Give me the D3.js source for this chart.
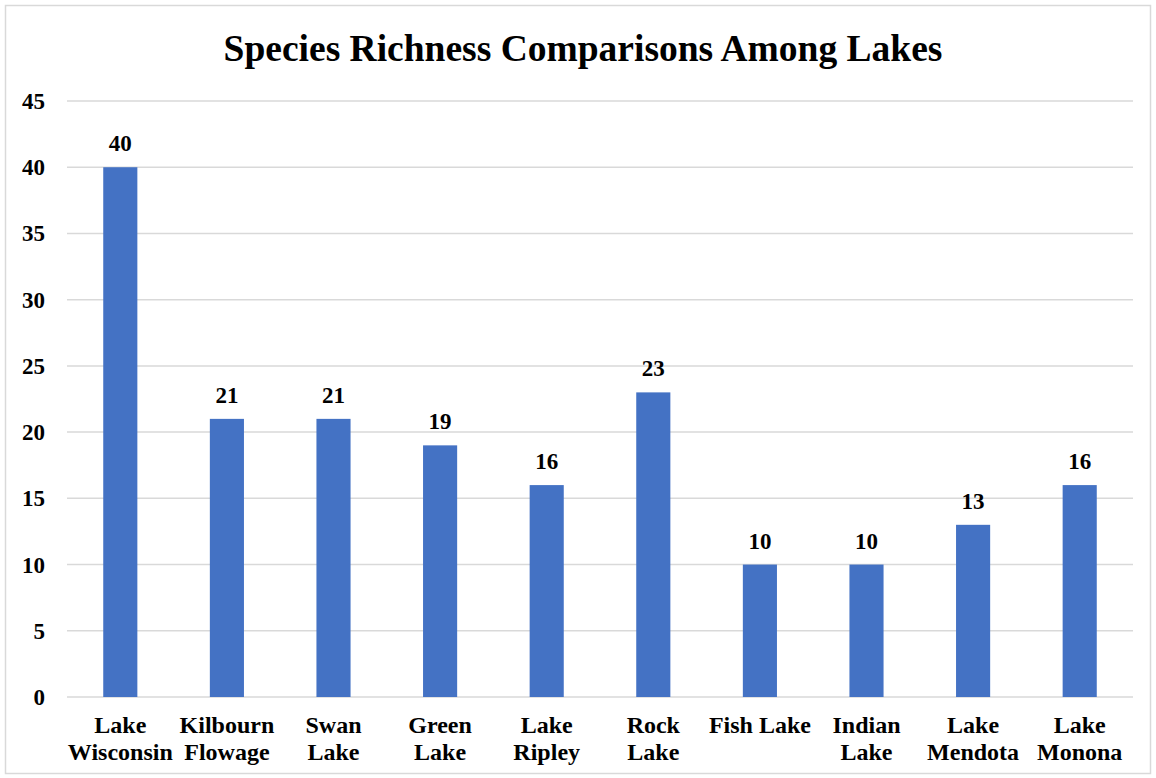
<!DOCTYPE html>
<html lang="en">
<head>
    <meta charset="UTF-8">
    <script src="https://d3js.org/d3.v7.min.js"></script>
    <style>
        body { margin: 0; background: #fff; }
        text { font-family: "Liberation Serif", "Times New Roman", serif; font-weight: bold; fill: #000; }
    </style>
</head>
<body>
<div id="chart"></div>
<script>
    var lakes = ["Lake Wisconsin", "Kilbourn Flowage", "Swan Lake", "Green Lake", "Lake Ripley",
                 "Rock Lake", "Fish Lake", "Indian Lake", "Lake Mendota", "Lake Monona"];
    // how each category label wraps on the axis
    var lakeLines = [["Lake", "Wisconsin"], ["Kilbourn", "Flowage"], ["Swan", "Lake"], ["Green", "Lake"],
                     ["Lake", "Ripley"], ["Rock", "Lake"], ["Fish Lake"], ["Indian", "Lake"],
                     ["Lake", "Mendota"], ["Lake", "Monona"]];
    var richness = [40, 21, 21, 19, 16, 23, 10, 10, 13, 16];
    var yTicks = [0, 5, 10, 15, 20, 25, 30, 35, 40, 45];

    var W = 1156, H = 778;
    var margin = {top: 101, right: 23, bottom: 81, left: 67},
        width = W - margin.left - margin.right,
        height = H - margin.top - margin.bottom;

    var svg = d3.select("#chart").append("svg")
        .attr("width", W)
        .attr("height", H);

    svg.append("rect")
        .attr("x", 5.5).attr("y", 5.5)
        .attr("width", W - 11).attr("height", H - 10)
        .attr("fill", "#fff")
        .attr("stroke", "#d9d9d9")
        .attr("stroke-width", 1.5);

    svg.append("text")
        .attr("x", 583)
        .attr("y", 61)
        .attr("text-anchor", "middle")
        .style("font-size", "37.5px")
        .text("Species Richness Comparisons Among Lakes");

    var g = svg.append("g")
        .attr("transform", "translate(" + margin.left + "," + margin.top + ")");

    var x = d3.scaleBand().domain(lakes).range([0, width]).paddingInner(0.68).paddingOuter(0.34);
    var y = d3.scaleLinear().domain([0, 45]).range([height, 0]);

    // gridlines
    g.selectAll(".grid").data(yTicks).enter().append("line")
        .attr("x1", 0).attr("x2", width)
        .attr("y1", function(d) { return y(d); })
        .attr("y2", function(d) { return y(d); })
        .attr("stroke", "#d9d9d9")
        .attr("stroke-width", 1.5);

    // y labels
    g.selectAll(".ylab").data(yTicks).enter().append("text")
        .attr("x", -22)
        .attr("y", function(d) { return y(d); })
        .attr("dy", "0.35em")
        .attr("text-anchor", "end")
        .style("font-size", "23px")
        .text(function(d) { return d; });

    // bars
    g.selectAll(".bar").data(richness).enter().append("rect")
        .attr("x", function(d, i) { return x(lakes[i]); })
        .attr("width", x.bandwidth())
        .attr("y", function(d) { return y(d); })
        .attr("height", function(d) { return height - y(d); })
        .attr("fill", "#4472c4");

    // value labels
    g.selectAll(".val").data(richness).enter().append("text")
        .attr("x", function(d, i) { return x(lakes[i]) + x.bandwidth() / 2; })
        .attr("y", function(d) { return y(d) - 16; })
        .attr("text-anchor", "middle")
        .style("font-size", "23px")
        .text(function(d) { return d; });

    // category labels
    var cat = g.selectAll(".cat").data(lakes).enter().append("text")
        .attr("x", function(d) { return x(d) + x.bandwidth() / 2; })
        .attr("y", height + 36)
        .attr("text-anchor", "middle")
        .style("font-size", "24px");
    cat.each(function(d, i) {
        var t = d3.select(this);
        lakeLines[i].forEach(function(line, j) {
            t.append("tspan")
                .attr("x", x(d) + x.bandwidth() / 2)
                .attr("dy", j === 0 ? 0 : 27)
                .text(line);
        });
    });
</script>
</body>
</html>
